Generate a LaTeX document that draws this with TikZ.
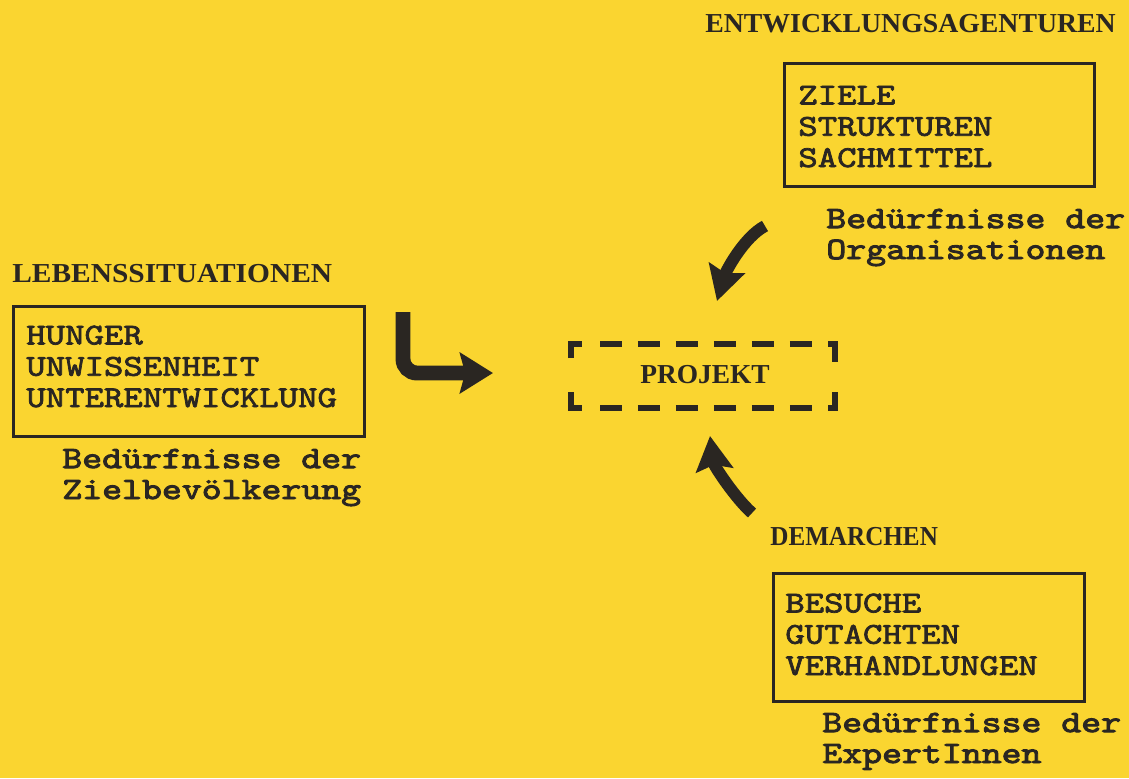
\documentclass[tikz,border=0pt]{standalone}
\usepackage{fontspec}
\usepackage{graphicx}
\setmainfont{Liberation Serif}
\newfontfamily\typew{lmmono10-regular}[Extension=.otf, FakeBold=2.4, FakeStretch=1.22]
\newfontfamily\typewheavy{lmmono10-regular}[Extension=.otf, FakeBold=3.0, FakeStretch=1.22]
\usetikzlibrary{arrows.meta}
\definecolor{paper}{RGB}{250,213,48}
\definecolor{ink}{RGB}{42,38,34}

\begin{document}
\begin{tikzpicture}[x=0.02cm,y=-0.02cm,
  heading/.style={font=\fontsize{15.6pt}{18pt}\selectfont\bfseries, text=ink,
    inner sep=0pt, anchor=base west},
  entrybox/.style={draw=ink, line width=1.7pt, anchor=north west, inner sep=0pt},
  entries/.style={font=\typew\fontsize{17.25pt}{17.8pt}\selectfont,
    text=ink, align=left, inner sep=0pt, anchor=base west},
  needlabel/.style={font=\typewheavy\fontsize{17.7pt}{17.6pt}\selectfont,
    text=ink, align=left, inner sep=0pt, anchor=base west},
  frameline/.style={draw=ink, line width=3.4pt, line cap=butt},
  framedash/.style={frameline, dash pattern=on 12.5pt off 9.1pt},
  thickarrow/.style={draw=ink, line width=8.5pt, line cap=butt,
    -{Stealth[length=18.8pt, width=23pt, inset=3pt]}},
  curvearrow/.style={draw=ink, line width=6.8pt, line cap=butt,
    -{Stealth[length=19.5pt, width=21pt, inset=3pt]}}
]
\fill[paper] (0,0) rectangle (1129,778);
\useasboundingbox (0,0) rectangle (1129,778);

% headings
\node[heading] (agent) at (705,32) {\scalebox{1.013}[1]{ENTWICKLUNGSAGENTUREN}};
\node[heading] (leben) at (12,282) {\scalebox{1.073}[1]{LEBENSSITUATIONEN}};
\node[heading] (demarch) at (770,545) {\scalebox{0.917}[1]{DEMARCHEN}};

% boxes
\node[entrybox, minimum width=6.2cm, minimum height=2.46cm] (agentbox) at (783,62) {};
\node[entrybox, minimum width=7.02cm, minimum height=2.6cm] (lebenbox) at (12,305) {};
\node[entrybox, minimum width=6.22cm, minimum height=2.56cm] (demarchbox) at (772,572) {};

% entries (placed by the baseline of their last line)
\node[entries] (agenttext) at (798,167) {ZIELE\\STRUKTUREN\\SACHMITTEL};
\node[entries] (lebentext) at (26,407) {HUNGER\\UNWISSENHEIT\\UNTERENTWICKLUNG};
\node[entries] (demarchtext) at (785,675) {BESUCHE\\GUTACHTEN\\VERHANDLUNGEN};

% needs under each box
\node[needlabel] (orgneed) at (826,259) {Bedürfnisse der\\Organisationen};
\node[needlabel] (zielneed) at (62,499) {Bedürfnisse der\\Zielbevölkerung};
\node[needlabel] (expneed) at (822,763) {Bedürfnisse der\\ExpertInnen};

% the project in its dashed frame
\node[heading, anchor=base] (projekt) at (705,383) {PROJEKT};
\draw[frameline] (571,358) -- (571,344) -- (582,344);
\draw[framedash] (600,344) -- (812,344);
\draw[frameline] (828,344) -- (835,344) -- (835,362);
\draw[frameline] (571,392) -- (571,408) -- (582,408);
\draw[framedash] (600,408) -- (812,408);
\draw[frameline] (835,392) -- (835,408) -- (828,408);

% arrows towards the project
\coordinate (lsrc) at (403,312);
\coordinate (ltip) at (493,373);
\draw[thickarrow, rounded corners=0.28cm] (lsrc) |- (ltip);

\coordinate (tsrc) at (765,226);
\coordinate (ttip) at (717,301);
\draw[curvearrow] (tsrc) .. controls (744,237) and (726,271) .. (ttip);

\coordinate (bsrc) at (752,513);
\coordinate (btip) at (710,436);
\draw[curvearrow] (bsrc) .. controls (736,499) and (714,466) .. (btip);
\end{tikzpicture}
\end{document}
